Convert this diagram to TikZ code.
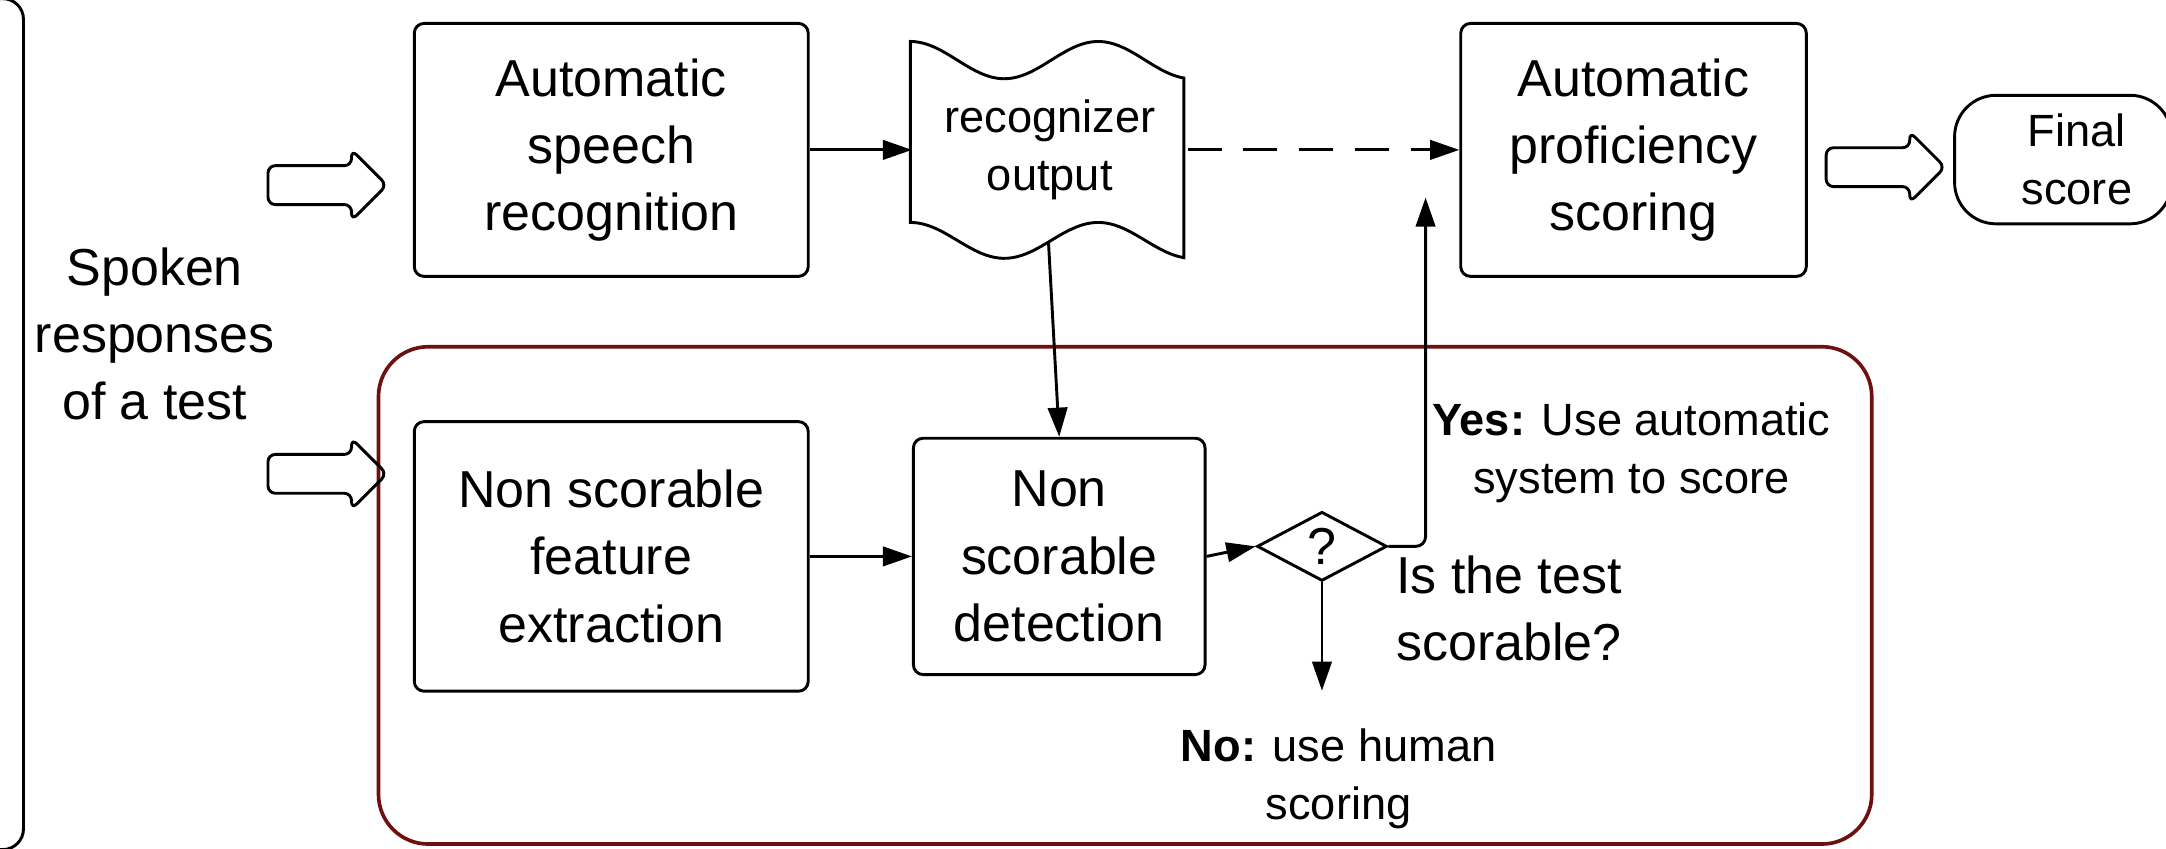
\documentclass[tikz,border=0pt]{standalone}
\usepackage{fontspec}
\setmainfont{Liberation Sans}
\usepackage{xcolor}
\usetikzlibrary{shapes,arrows,positioning,shapes.geometric,arrows.meta}

\definecolor{grpred}{RGB}{110,16,16}
\newcommand{\bigtxt}{\fontsize{10.7pt}{13.8pt}\selectfont}
\newcommand{\smalltxt}{\fontsize{9.3pt}{11.9pt}\selectfont}

\tikzset{
  procbox/.style={draw, rectangle, rounded corners=2pt, line width=0.6pt, align=center, font=\bigtxt, inner sep=0pt},
  blockarrow/.style={draw, single arrow, rounded corners=1.5pt, line width=0.6pt, minimum height=0.86cm, minimum width=0.49cm, single arrow head extend=0.115cm, inner xsep=0pt, inner ysep=0.13cm},
  flow/.style={->, line width=0.6pt},
  >={Triangle[length=6pt,width=4pt]}
}

\begin{document}
\begin{tikzpicture}[x=0.01cm, y=-0.01cm, node distance=0.74cm]
\useasboundingbox (0,0) rectangle (1568,614);

% frame cut at the left border
\draw[line width=0.6pt, rounded corners=0.15cm] (-30,-1) -- (17,-1) -- (17,615) -- (-30,615);

% group round the non scorable part
\draw[grpred, line width=0.75pt, rounded corners=0.36cm] (274,251) rectangle (1355,611);

\node[align=center, font=\bigtxt] (spoken) at (112,241.5) {Spoken\\responses\\of a test};
\node[blockarrow] (inA) at (230,134) {};
\node[blockarrow] (inB) at (230,343) {};

\node[procbox, minimum width=2.85cm, minimum height=1.83cm] (asr) at (442.5,108.5) {Automatic\\speech\\recognition};
\node[align=center, font=\smalltxt, minimum width=1.98cm, minimum height=1.5cm, inner sep=0pt, right=of asr] (recout) {recognizer\\output};
\draw[line width=0.6pt] plot[domain=659:857, samples=60] (\x,{43.5-13.5*cos(2.647*(\x-659))})
  -- plot[domain=857:659, samples=60] (\x,{174-13*cos(2.647*(\x-659))}) -- cycle;
\node[procbox, minimum width=2.5cm, minimum height=1.83cm, right=4.7cm of asr] (aps) {Automatic\\proficiency\\scoring};
\node[blockarrow] (outarr) at (1358,121) {};
\node[draw, rounded corners=0.3cm, line width=0.6pt, minimum width=1.57cm, minimum height=0.93cm, align=center, font=\smalltxt] (fin) at (1493.5,115.5) {\hspace*{0.2cm}Final\\\hspace*{0.2cm}score};

\node[procbox, minimum width=2.85cm, minimum height=1.95cm, below=1.03cm of asr] (nsfe) {Non scorable\\feature\\extraction};
\node[procbox, minimum width=2.11cm, minimum height=1.71cm, right=of nsfe] (nsd) {Non\\scorable\\detection};
\node[draw, diamond, line width=0.6pt, minimum width=0.94cm, minimum height=0.5cm, inner sep=0pt, font=\bigtxt] (dec) at (957,395.5) {?};

\node[font=\smalltxt, align=center] (yeslbl) at (1181,327.5) {\textbf{Yes:} Use automatic\\system to score};
\node[font=\bigtxt, align=left, anchor=west, inner sep=0pt] (quest) at (1010,440.5) {Is the test\\scorable?};
\node[font=\smalltxt, align=center] (nolbl) at (969,563.5) {\textbf{No:} use human\\scoring};

\coordinate (recbot) at (759,175);
\coordinate (yesend) at (1032,143);
\coordinate (noend) at (957,500);

\draw[flow] (asr.east) -- (recout.west);
\draw[flow, dash pattern=on 7pt off 4.5pt] (recout.east) -- (aps.west);
\draw[flow] (recbot) -- (nsd.north);
\draw[flow] (nsfe.east) -- (nsd.west);
\draw[flow] (nsd.east) -- (dec.west);
\draw[flow, rounded corners=2pt] (dec.east) -| (yesend);
\draw[flow] (dec.south) -- (noend);
\end{tikzpicture}
\end{document}
